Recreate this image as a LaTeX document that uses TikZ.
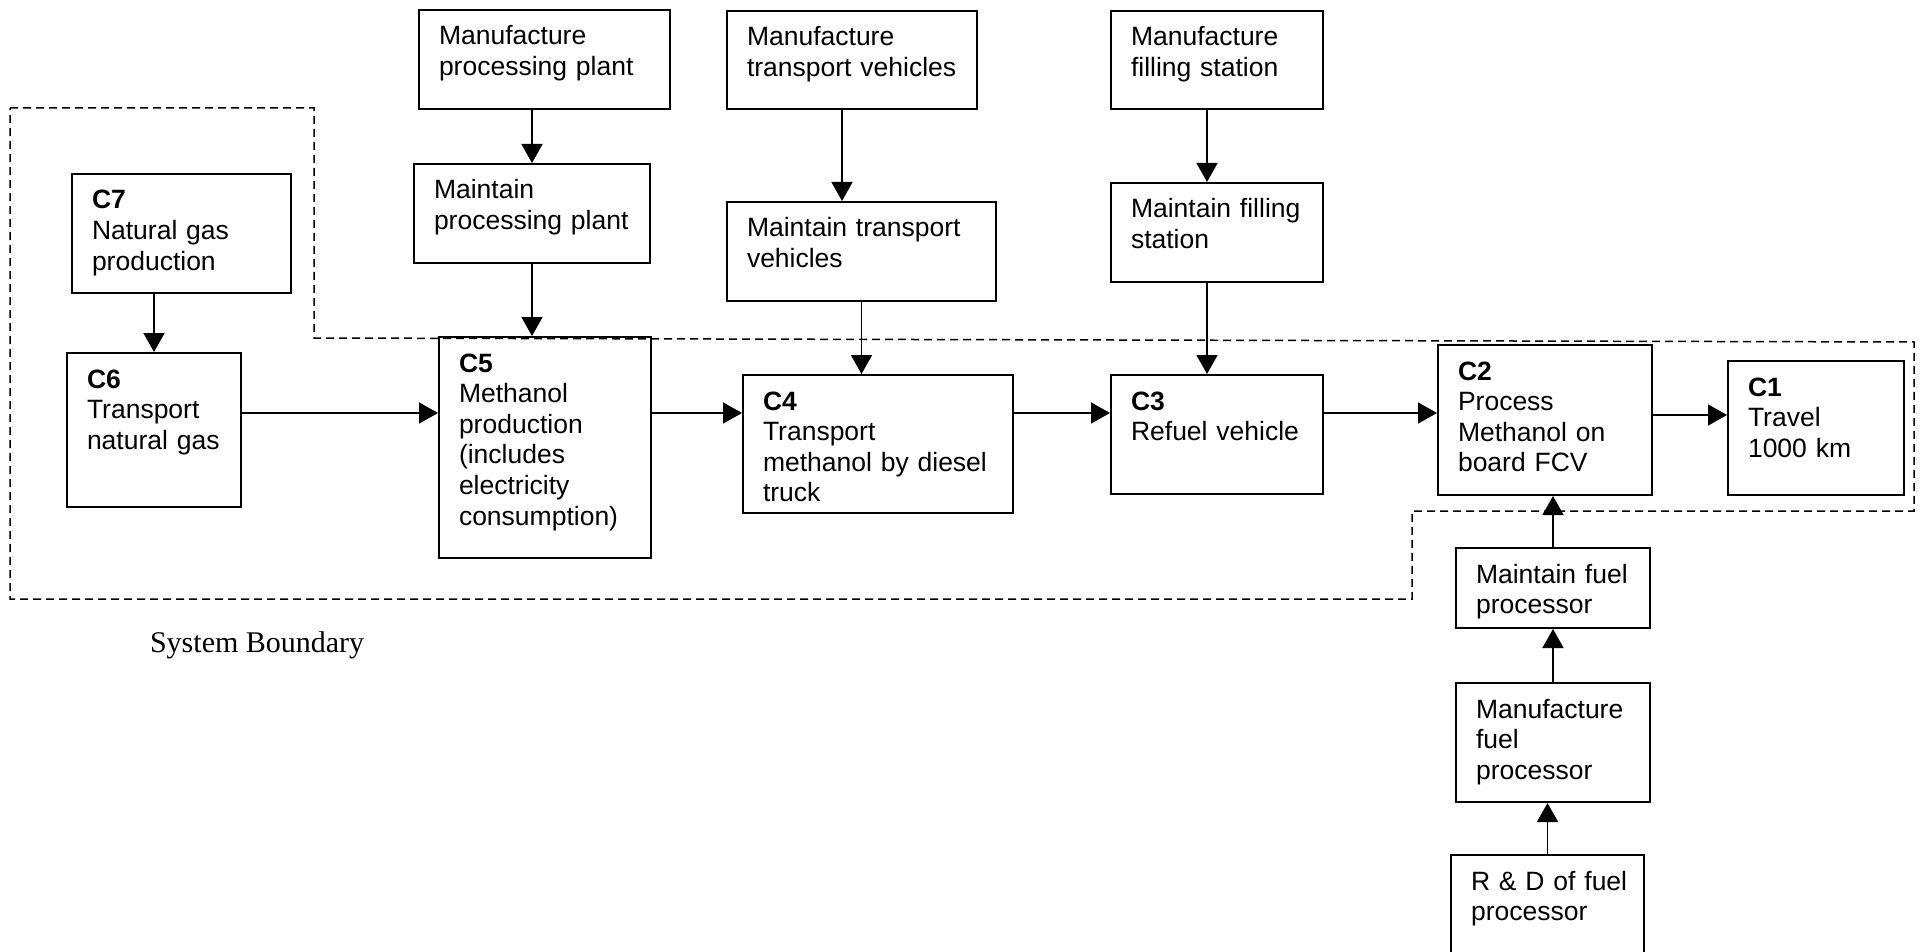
\documentclass[tikz,border=0pt]{standalone}
\usepackage{fontspec}
\setmainfont{Liberation Sans}
\newfontfamily\captionserif{Liberation Serif}
\usetikzlibrary{arrows.meta}

\begin{document}
\begin{tikzpicture}[
    x=0.5pt, y=-0.5pt,
    proc_box/.style 2 args={draw, line width=1pt, anchor=north west, align=left,
        font=\fontsize{13.25pt}{15.3pt}\selectfont,
        inner xsep=10pt, inner ysep=0pt, text height=17.5pt,
        text width=#1, text depth=#2},
    flow/.style={-{Triangle[length=9.5pt, width=10.5pt]}, line width=0.8pt},
    boundary/.style={dash pattern=on 4pt off 2.5pt, line width=0.75pt}
]
\useasboundingbox (0,0) rectangle (1921,952);

\node[proc_box={105.5pt}{32pt}] (mpp) at (418, 9) {Manufacture\\processing plant};
\node[proc_box={98pt}{32pt}] (mtp) at (413, 163) {Maintain\\processing plant};
\node[proc_box={105pt}{31.5pt}] (mtv) at (726, 10) {Manufacture\\transport vehicles};
\node[proc_box={114.5pt}{32pt}] (mnt) at (726, 201) {Maintain transport\\vehicles};
\node[proc_box={86pt}{31.5pt}] (mfs) at (1110, 10) {Manufacture\\filling station};
\node[proc_box={86pt}{32pt}] (mfl) at (1110, 182) {Maintain filling\\station};

\node[proc_box={89.5pt}{42pt}] (c7) at (71, 173) {\textbf{C7}\\Natural gas\\production};
\node[proc_box={67pt}{59.5pt}] (c6) at (66, 352) {\textbf{C6}\\Transport\\natural gas};
\node[proc_box={86pt}{93pt}] (c5) at (438, 336)
    {\textbf{C5}\\Methanol\\production\\(includes\\electricity\\consumption)};
\node[proc_box={115pt}{51.5pt}] (c4) at (742, 374)
    {\textbf{C4}\\Transport\\methanol by diesel\\truck};
\node[proc_box={86pt}{42pt}] (c3) at (1110, 374) {\textbf{C3}\\Refuel vehicle};
\node[proc_box={87pt}{57.5pt}] (c2) at (1437, 344) {\textbf{C2}\\Process\\Methanol on\\board FCV};
\node[proc_box={68pt}{49.5pt}] (c1) at (1727, 360) {\textbf{C1}\\Travel\\1000 km};

\node[proc_box={77pt}{22.5pt}] (mfp) at (1455, 547) {Maintain fuel\\processor};
\node[proc_box={77pt}{42pt}] (mfg) at (1455, 682) {Manufacture\\fuel\\processor};
\node[proc_box={76.5pt}{45.5pt}] (rnd) at (1450, 854) {\mbox{R \& D of fuel}\\processor};

\draw[boundary] (10,108) -- (314,108) -- (314,338) -- (1914,342) -- (1914,511)
    -- (1412,511) -- (1412,599) -- (10,599) -- cycle;
\node[anchor=base west, font=\captionserif\fontsize{15pt}{18pt}\selectfont] (sysb)
    at (143, 652) {System Boundary};

\coordinate (mainrow) at (0, 413);

\draw[flow] (mtp.north |- mpp.south) -- (mtp.north);
\draw[flow] (mtp.south) -- (mtp.south |- c5.north);
\draw[flow] ([xshift=-5pt]mtv.south) -- ([xshift=-5pt]mtv.south |- mnt.north);
\draw[flow] (mnt.south) -- (mnt.south |- c4.north);
\draw[flow] ([xshift=-5pt]mfs.south) -- ([xshift=-5pt]mfs.south |- mfl.north);
\draw[flow] ([xshift=-5pt]mfl.south) -- ([xshift=-5pt]mfl.south |- c3.north);
\draw[flow] (c6.north |- c7.south) -- (c6.north);

\draw[flow] (c6.east |- mainrow) -- (c5.west |- mainrow);
\draw[flow] (c5.east |- mainrow) -- (c4.west |- mainrow);
\draw[flow] (c4.east |- mainrow) -- (c3.west |- mainrow);
\draw[flow] (c3.east |- mainrow) -- (c2.west |- mainrow);
\draw[flow] ([yshift=-1pt]c2.east |- mainrow) -- ([yshift=-1pt]c1.west |- mainrow);

\draw[flow] (mfp.north) -- (mfp.north |- c2.south);
\draw[flow] (mfg.north) -- (mfp.south);
\draw[flow] (rnd.north) -- (rnd.north |- mfg.south);
\end{tikzpicture}
\end{document}
